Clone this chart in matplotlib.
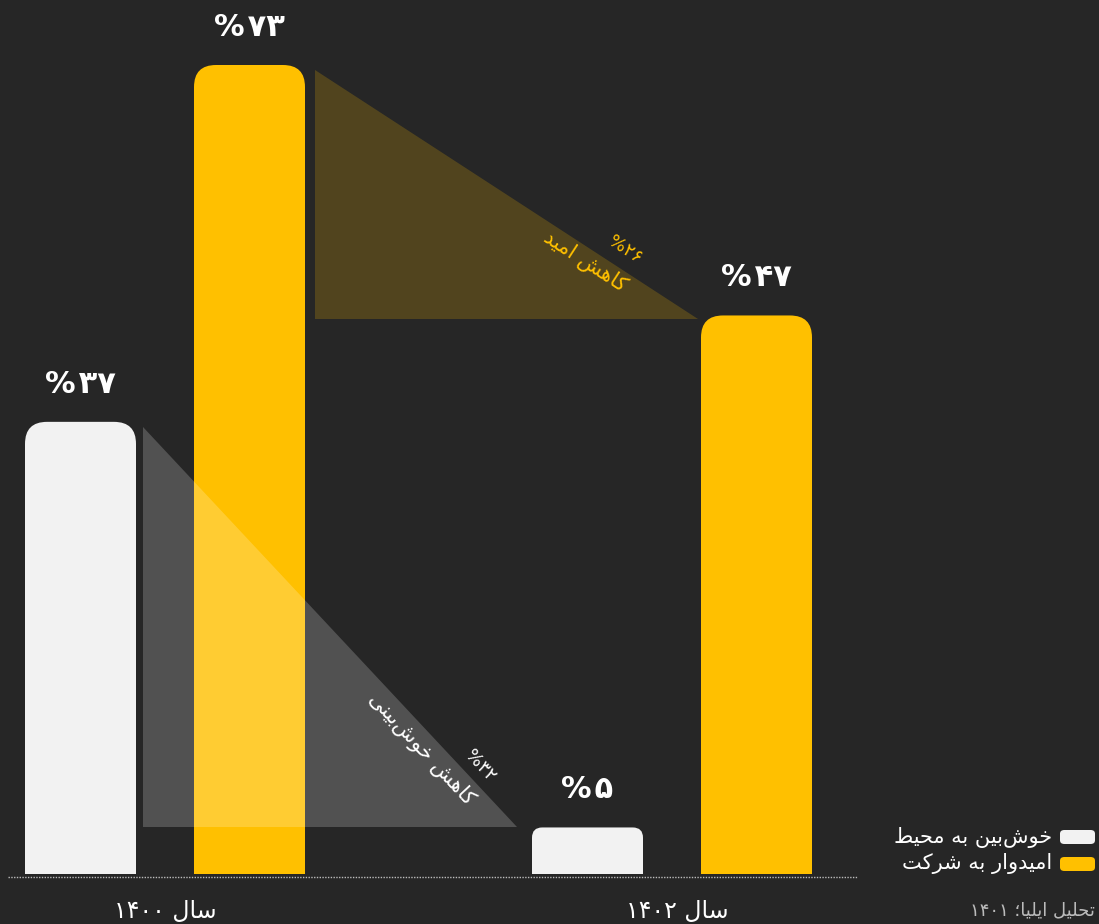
import re
import matplotlib
matplotlib.use("Agg")
import matplotlib.pyplot as plt
from matplotlib.patches import FancyBboxPatch, Rectangle, Polygon
from matplotlib import font_manager, ft2font
from matplotlib.font_manager import FontProperties

# ---------------- data ----------------
years = [1400, 1402]
series_names = ["خوش\u200cبین به محیط", "امیدوار به شرکت"]
labels_pct = [[37, 5], [73, 47]]          # printed values per series (1400, 1402)
heights_drawn = [[40.8, 4.2], [73.0, 50.4]]  # bar heights as drawn in picture
drop_pct = [32, 26]                        # white, yellow drop
drop_text = ["کاهش خوش\u200cبینی", "کاهش امید"]
year_prefix = "سال"
source_text = "تحلیل ایلیا؛ "
source_year = 1401

BG = "#262626"
WHITE = "#F2F2F2"
YELLOW = "#FFC000"
colors = [WHITE, YELLOW]

# ---------------- font helpers ----------------
def has_glyph(weight, ch):
    path = font_manager.findfont(FontProperties(family="DejaVu Sans", weight=weight))
    f = ft2font.FT2Font(path)
    return f.get_char_index(ord(ch)) != 0

LETTERS = {
    'ا': ('\uFE8D', '\uFE8E', None, None),
    'ب': ('\uFE8F', '\uFE90', '\uFE91', '\uFE92'),
    'ت': ('\uFE95', '\uFE96', '\uFE97', '\uFE98'),
    'ح': ('\uFEA1', '\uFEA2', '\uFEA3', '\uFEA4'),
    'خ': ('\uFEA5', '\uFEA6', '\uFEA7', '\uFEA8'),
    'د': ('\uFEA9', '\uFEAA', None, None),
    'ر': ('\uFEAD', '\uFEAE', None, None),
    'س': ('\uFEB1', '\uFEB2', '\uFEB3', '\uFEB4'),
    'ش': ('\uFEB5', '\uFEB6', '\uFEB7', '\uFEB8'),
    'ط': ('\uFEC1', '\uFEC2', '\uFEC3', '\uFEC4'),
    'ل': ('\uFEDD', '\uFEDE', '\uFEDF', '\uFEE0'),
    'م': ('\uFEE1', '\uFEE2', '\uFEE3', '\uFEE4'),
    'ن': ('\uFEE5', '\uFEE6', '\uFEE7', '\uFEE8'),
    'ه': ('\uFEE9', '\uFEEA', '\uFEEB', '\uFEEC'),
    'و': ('\uFEED', '\uFEEE', None, None),
    'ی': ('\uFBFC', '\uFBFD', '\uFBFE', '\uFBFF'),
    'ک': ('\uFB8E', '\uFB8F', '\uFB90', '\uFB91'),
}
if not has_glyph("normal", '\uFBFC'):
    LETTERS['ی'] = ('\uFEEF', '\uFEF0', '\uFEF3', '\uFEF4')
if not has_glyph("normal", '\uFB8E'):
    LETTERS['ک'] = ('\uFED9', '\uFEDA', '\uFEDB', '\uFEDC')

FA_DIGITS = "۰۱۲۳۴۵۶۷۸۹"
if not has_glyph("normal", '۴'):
    FA_DIGITS = "٠١٢٣٤٥٦٧٨٩"

THIN = '\u200a' if has_glyph("bold", '\u200a') else ''


def fa_num(n):
    return "".join(FA_DIGITS[int(c)] for c in str(n))


def shape(s):
    chars = list(s)
    out = []
    for i, c in enumerate(chars):
        if c == '\u200c':
            continue
        if c not in LETTERS:
            out.append(c)
            continue
        prev = chars[i - 1] if i > 0 else None
        nxt = chars[i + 1] if i + 1 < len(chars) else None
        f = LETTERS[c]
        jp = prev in LETTERS and LETTERS[prev][2] is not None
        jn = nxt in LETTERS and f[2] is not None
        if jp and jn:
            out.append(f[3])
        elif jp:
            out.append(f[1])
        elif jn:
            out.append(f[2])
        else:
            out.append(f[0])
    s2 = "".join(out)
    tokens = re.split("([%s0-9]+)" % FA_DIGITS, s2)
    vis = []
    for t in reversed(tokens):
        if t and (t[0] in FA_DIGITS or t[0].isdigit()):
            vis.append(t)
        else:
            vis.append(t[::-1])
    return "".join(vis)


def pct(n, sep=THIN):
    return "%" + sep + fa_num(n)

# ---------------- figure ----------------
W, H = 1099, 924
fig = plt.figure(figsize=(W / 100, H / 100), dpi=100, facecolor=BG)
PXU = 809 / 73.0  # pixels per y unit
ax_bottom_px = 880
ax = fig.add_axes([8 / W, (H - ax_bottom_px) / H, 850 / W, ax_bottom_px / H])
ax.set_facecolor(BG)
ax.set_xlim((8 - 165) / 507, (858 - 165) / 507)
ax.set_ylim(-(ax_bottom_px - 874) / PXU, 874 / PXU)
ax.axis("off")

FONT = "DejaVu Sans"
bw = 111 / 507
offs = [-1 / 6, 1 / 6]
r_x = 22 / 507
aspect = (22 / PXU) / r_x

geom = {}
for si in range(2):
    for gi in range(2):
        x = gi + offs[si]
        h = heights_drawn[si][gi]
        h_px = h * PXU
        rs = min(22.0, h_px * 0.22) / 507
        p = FancyBboxPatch((x - bw / 2, 0), bw, h,
                           boxstyle="round,pad=0,rounding_size=%f" % rs,
                           mutation_aspect=aspect, fc=colors[si], ec="none", zorder=2)
        ax.add_patch(p)
        ax.add_patch(Rectangle((x - bw / 2, 0), bw, h / 2, fc=colors[si], ec="none", zorder=2))
        geom[(si, gi)] = (x, h)
        ax.annotate(pct(labels_pct[si][gi]), (x, h), xytext=(0, 27),
                    textcoords="offset points", ha="center", va="center",
                    color="white", fontsize=22, fontweight="bold", family=FONT)

# baseline dotted
ax.axhline(-2.5 / PXU, color="#BBBBBB", lw=1.0, ls=(0, (1, 1)), zorder=1)

# drop triangles
tri_alpha = 0.2
for si in range(2):
    x1, h1 = geom[(si, 0)]
    x2, h2 = geom[(si, 1)]
    gap_l = (7 if si == 0 else 10) / 507
    gap_r = (15 if si == 0 else 3) / 507
    xa = x1 + bw / 2 + gap_l
    xb = x2 - bw / 2 - gap_r
    ya = h1 - 5 / PXU
    yb = h2 - (0 if si == 0 else 4) / PXU
    tri = Polygon([(xa, ya), (xa, yb), (xb, yb)], closed=True,
                  fc=colors[si] if si == 1 else "white", alpha=tri_alpha,
                  ec="none", zorder=3)
    ax.add_patch(tri)


def fpx(x, y):
    return (x / W, 1 - y / H)

# triangle texts
fig.text(*fpx(585, 261), shape(drop_text[1]), rotation=-33, rotation_mode="anchor",
         ha="center", va="center", color=YELLOW, fontsize=15, family=FONT, zorder=5)
fig.text(*fpx(625, 250), pct(drop_pct[1], ''), rotation=-33, rotation_mode="anchor",
         ha="center", va="center", color=YELLOW, fontsize=13, family=FONT, zorder=5)
fig.text(*fpx(421, 749), shape(drop_text[0]), rotation=-47, rotation_mode="anchor",
         ha="center", va="center", color="white", fontsize=15, family=FONT, zorder=5)
fig.text(*fpx(480, 766), pct(drop_pct[0], ''), rotation=-47, rotation_mode="anchor",
         ha="center", va="center", color="white", fontsize=13, family=FONT, zorder=5)

# year labels
for gi, yr in enumerate(years):
    ax.annotate(shape(year_prefix + " " + fa_num(yr)), (gi, 0), xycoords="data",
                xytext=(gi * 4, -37 * 0.72), textcoords="offset points",
                ha="center", va="center", color="white", fontsize=17, family=FONT,
                annotation_clip=False)

# legend
for si, yc in zip(range(2), [837, 864]):
    fig.patches.append(FancyBboxPatch((1060 / W, 1 - (yc + 7) / H), 35 / W, 14 / H,
                                      boxstyle="round,pad=0,rounding_size=0.004",
                                      transform=fig.transFigure, fc=colors[si], ec="none"))
    fig.text(1052 / W, 1 - yc / H, shape(series_names[si]), ha="right", va="center",
             color="white", fontsize=15, family=FONT)

fig.text(1095 / W, 1 - 910 / H, shape(source_text + fa_num(source_year)), ha="right",
         va="center", color="#BBBBBB", fontsize=13, family=FONT)

fig.savefig("out.png", dpi=100, facecolor=BG)
